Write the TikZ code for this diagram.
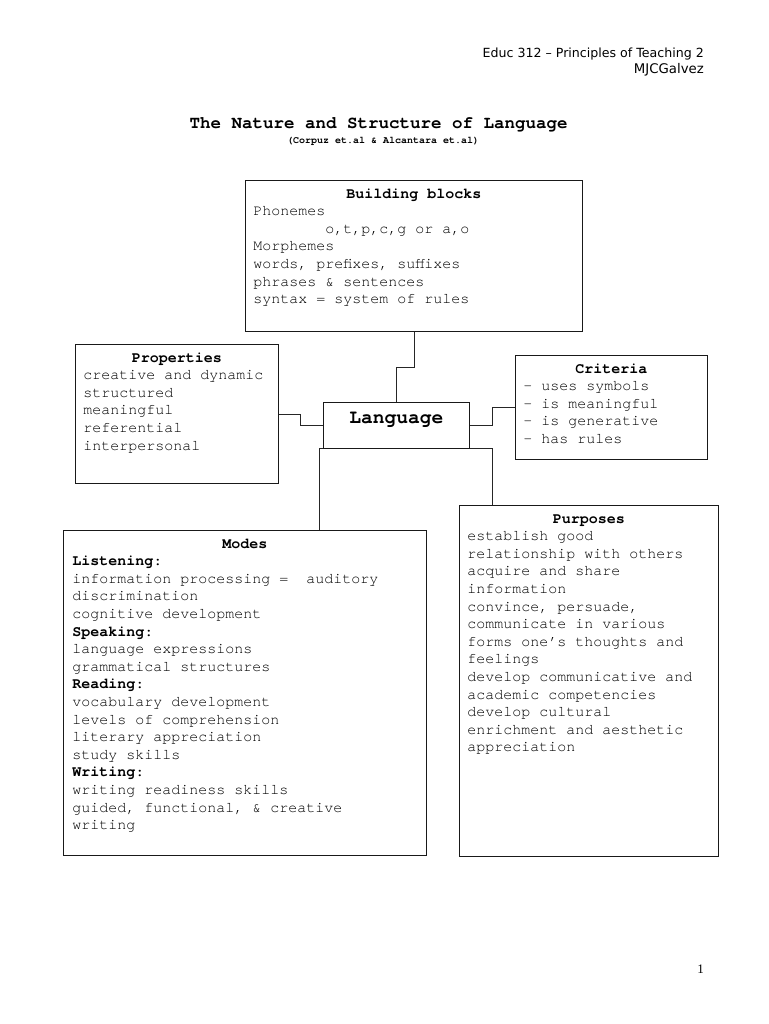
\documentclass[tikz,border=0pt]{standalone}
\usepackage{fontspec}
\setmainfont{Liberation Serif}
\setsansfont{DejaVu Sans}
\setmonofont{TeX Gyre Cursor}

% Font used inside the boxes
\newcommand{\cardfont}{\fontsize{15}{17.6}\selectfont\ttfamily}
% Centred bold heading on the first line of a box
\newcommand{\boxhead}[1]{\centerline{\rule{0pt}{11pt}\textbf{#1}}}
% Top aligned body of fixed size
\newcommand{\boxbody}[3]{\begin{minipage}[t][#2][t]{#1}#3\end{minipage}}

\tikzset{
    card/.style={draw=black!90, line width=0.9pt, anchor=north west,
        inner xsep=8pt, inner ysep=6.7pt, font=\cardfont},
    link/.style={draw=black!85, line width=0.9pt}
}

\begin{document}
\begin{tikzpicture}[x=1pt, y=-1pt]

    % Fix the page to the size of the sheet
    \useasboundingbox (0,0) rectangle (768,1024);

    % Running head and page number
    \node[anchor=base east, inner sep=0pt, font=\fontsize{12.6}{15}\selectfont\sffamily] (course) at (704,58) {Educ 312 -- Principles of Teaching 2};
    \node[anchor=base east, inner sep=0pt, font=\fontsize{13.3}{16}\selectfont\sffamily] (author) at (704,73.5) {MJCGalvez};
    \node[anchor=base, inner sep=0pt, font=\fontsize{13}{15}\selectfont\rmfamily] (page) at (700.7,973) {1};

    % Title and sources
    \node[anchor=base, font=\fontsize{17.5}{20}\selectfont\ttfamily\bfseries] (title) at (378.5,128.3) {The Nature and Structure of Language};
    \node[anchor=base, font=\fontsize{10}{12}\selectfont\ttfamily\bfseries] (source) at (383,144) {(Corpuz et.al \& Alcantara et.al)};

    % Building blocks box
    \node[card] (bb) at (245,180) {\boxbody{321pt}{137.6pt}{\boxhead{Building blocks}
        Phonemes\\
        \hspace*{72pt}o,t,p,c,g or a,o\\
        Morphemes\\
        words, prefixes, suffixes\\
        phrases \& sentences\\
        syntax = system of rules}};

    % Properties box
    \node[card] (props) at (75,344) {\boxbody{187pt}{125.6pt}{\boxhead{Properties}
        creative and dynamic\\
        structured\\
        meaningful\\
        referential\\
        interpersonal}};

    % Centre box
    \node[card, font=\fontsize{19.6}{22}\selectfont\ttfamily] (lang) at (323,402) {\boxbody{130pt}{32.6pt}{\centerline{\rule{0pt}{14.3pt}\textbf{Language}}}};

    % Criteria box
    \node[card] (crit) at (515,355) {\boxbody{176pt}{90.6pt}{\boxhead{Criteria}
        - uses symbols\\
        - is meaningful\\
        - is generative\\
        - has rules}};

    % Modes box
    \node[card, inner xsep=9pt] (modes) at (63,530) {\boxbody{345pt}{311.6pt}{\boxhead{Modes}
        \textbf{Listening}:\\
        information processing =~~auditory\\
        discrimination\\
        cognitive development\\
        \textbf{Speaking}:\\
        language expressions\\
        grammatical structures\\
        \textbf{Reading}:\\
        vocabulary development\\
        levels of comprehension\\
        literary appreciation\\
        study skills\\
        \textbf{Writing}:\\
        writing readiness skills\\
        guided, functional, \& creative\\
        writing}};

    % Purposes box
    \node[card] (purp) at (459,505) {\boxbody{243pt}{337.6pt}{\boxhead{Purposes}
        establish good\\
        relationship with others\\
        acquire and share\\
        information\\
        convince, persuade,\\
        communicate in various\\
        forms one’s thoughts and\\
        feelings\\
        develop communicative and\\
        academic competencies\\
        develop cultural\\
        enrichment and aesthetic\\
        appreciation}};

    % Elbow connectors to the centre box
    \draw[link] (bb.south) -- ++(0,36) -| (lang.north);
    \draw[link] (props.east) -- ++(22,0) |- (lang.west);
    \draw[link] (lang.east) -- ++(23,0) |- (crit.west);
    \draw[link] (lang.south east) -- ++(23,0) coordinate (pj) -- (pj |- purp.north);
    \draw[link] (lang.south west) -- ++(-4,0) coordinate (mj) -- (mj |- modes.north);

\end{tikzpicture}
\end{document}
